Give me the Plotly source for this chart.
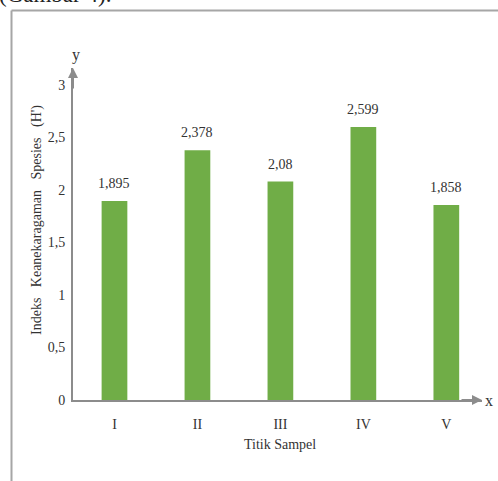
import plotly.graph_objects as go

categories = ["I", "II", "III", "IV", "V"]
values = [1.895, 2.378, 2.08, 2.599, 1.858]
y_ticks = [0, 0.5, 1, 1.5, 2, 2.5, 3]
y_tick_labels = ["0", "0,5", "1", "1,5", "2", "2,5", "3"]

W, H = 498, 481
ML, MR, MT, MB = 73, 16, 68, 81
PW, PH = W - ML - MR, H - MT - MB

def px(x):
    return (x - ML) / PW

def py(y):
    return 1 - (y - MT) / PH

labels = [f"{v:g}".replace(".", ",") for v in values]
axis_col = "#8c8c8c"
text_col = "#333333"
font_fam = "Liberation Serif, Times New Roman, serif"

def f(size, color=text_col):
    return dict(family=font_fam, size=size, color=color)

fig = go.Figure(go.Bar(
    x=categories, y=values, width=0.31,
    marker=dict(color="#70AD47", line=dict(width=0)),
    hoverinfo="skip",
))

annotations = [
    dict(x=c, y=v, xref="x", yref="y", text=t, showarrow=False,
         xanchor="center", yanchor="bottom", yshift=8, font=f(14))
    for c, v, t in zip(categories, values, labels)
]
sp = "&nbsp;&nbsp; "
annotations += [
    dict(xref="paper", yref="paper", x=0, y=1, ax=0, ay=22, text="",
         showarrow=True, arrowhead=2, arrowsize=1, arrowwidth=2, arrowcolor=axis_col),
    dict(xref="paper", yref="paper", x=1, y=0, ax=-22, ay=0, text="",
         showarrow=True, arrowhead=2, arrowsize=1, arrowwidth=2, arrowcolor=axis_col),
    dict(xref="paper", yref="paper", x=px(76), y=py(55), xanchor="center", yanchor="middle",
         text="y", showarrow=False, font=f(16)),
    dict(xref="paper", yref="paper", x=px(489), y=py(400), xanchor="center", yanchor="middle",
         text="x", showarrow=False, font=f(16)),
    dict(xref="paper", yref="paper", x=px(37), y=py(220), xanchor="center", yanchor="middle",
         textangle=-90, showarrow=False,
         text=f"Indeks{sp}Keanekaragaman{sp}Spesies{sp}(H')", font=f(14)),
    dict(xref="paper", yref="paper", x=px(280), y=py(445), xanchor="center", yanchor="middle",
         text="Titik Sampel", showarrow=False, font=f(14)),
    dict(xref="paper", yref="paper", x=px(-3), y=py(9), xanchor="left", yanchor="bottom",
         text="(Gambar 4).", showarrow=False, font=f(23, "#222")),
]

fig.update_layout(
    width=W, height=H,
    margin=dict(l=ML, r=MR, t=MT, b=MB, autoexpand=False),
    paper_bgcolor="white", plot_bgcolor="white",
    showlegend=False,
    font=f(14),
    xaxis=dict(
        range=[-0.5, 4.43], showline=True, linecolor=axis_col, linewidth=2,
        showgrid=False, ticks="", zeroline=False, automargin=False,
        tickfont=f(14), ticklabelstandoff=10,
    ),
    yaxis=dict(
        range=[0, 3.162], showline=True, linecolor=axis_col, linewidth=2,
        showgrid=False, ticks="", zeroline=False, automargin=False,
        tickvals=y_ticks, ticktext=y_tick_labels,
        tickfont=f(14), ticklabelstandoff=3,
    ),
    shapes=[
        dict(type="line", xref="paper", yref="paper",
             x0=px(11.5), x1=px(11.5), y0=py(10.5), y1=py(H + 5),
             line=dict(color="#a6a6a6", width=2)),
        dict(type="line", xref="paper", yref="paper",
             x0=px(11.5), x1=px(W + 5), y0=py(10.5), y1=py(10.5),
             line=dict(color="#a6a6a6", width=2)),
    ],
    annotations=annotations,
)

fig.write_html("out.html", config={"displayModeBar": False},
               post_script="document.body.style.margin='0';")
